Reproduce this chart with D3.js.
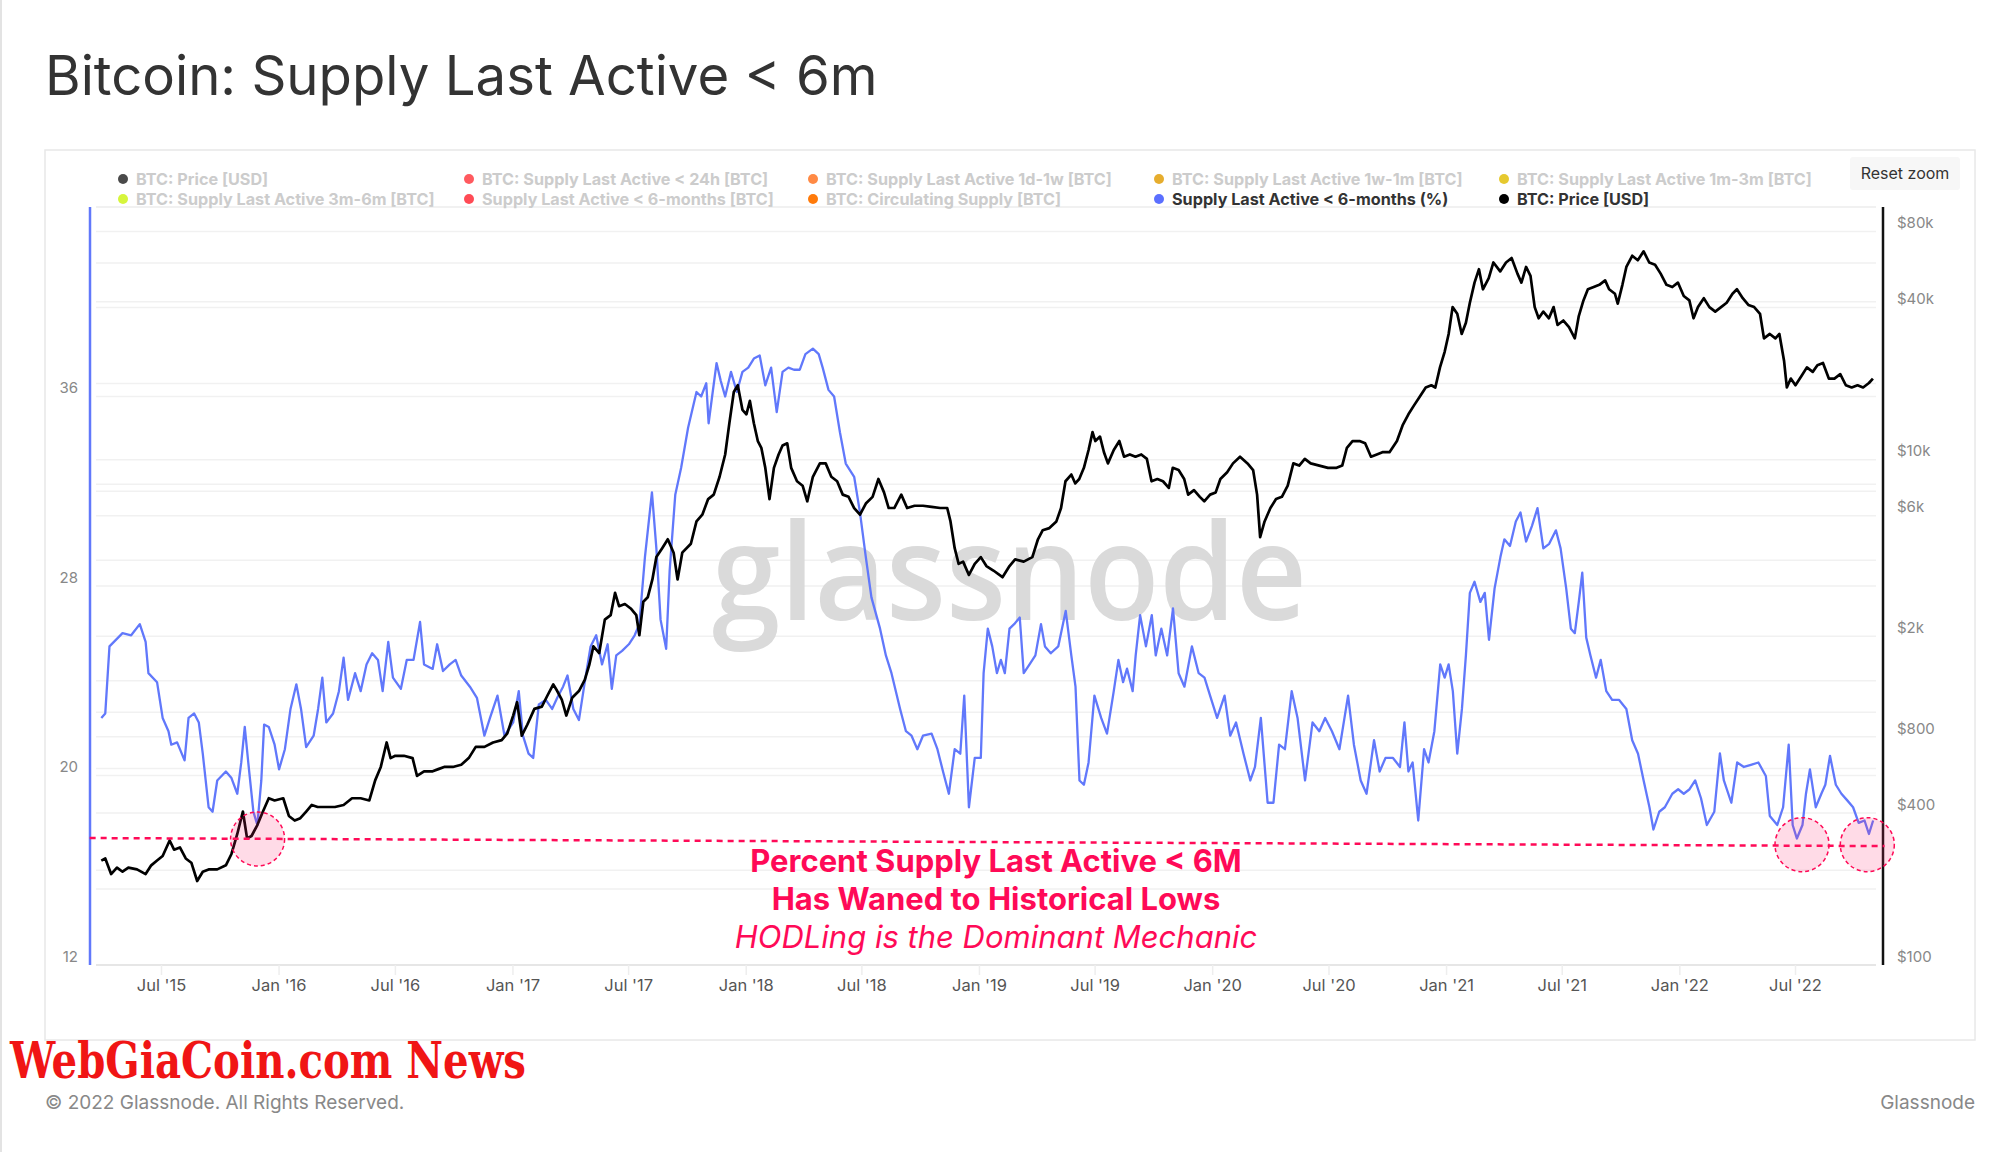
<!DOCTYPE html>
<html><head><meta charset="utf-8">
<script src="https://cdn.jsdelivr.net/npm/d3@7"></script>
<style>html,body{margin:0;padding:0;background:#fff;} svg{display:block;font-family:Inter,"Noto Sans",sans-serif;}</style>
</head><body><svg id="c" width="2000" height="1152"></svg>
<script>
// ---- DATA (dates as decimal years) ----
const pctDates = [2015.240,2015.257,2015.275,2015.294,2015.331,2015.368,2015.405,2015.430,2015.442,2015.479,2015.503,2015.528,2015.540,2015.565,2015.597,2015.614,2015.638,2015.658,2015.675,2015.700,2015.717,2015.737,2015.774,2015.798,2015.823,2015.840,2015.855,2015.872,2015.892,2015.909,2015.926,2015.938,2015.958,2015.983,2016.002,2016.027,2016.051,2016.076,2016.096,2016.118,2016.150,2016.169,2016.187,2016.204,2016.233,2016.258,2016.278,2016.297,2016.327,2016.351,2016.376,2016.400,2016.425,2016.445,2016.469,2016.489,2016.523,2016.548,2016.577,2016.605,2016.622,2016.659,2016.678,2016.703,2016.732,2016.757,2016.781,2016.818,2016.848,2016.880,2016.904,2016.936,2016.966,2017.003,2017.027,2017.045,2017.069,2017.089,2017.113,2017.143,2017.170,2017.192,2017.217,2017.236,2017.261,2017.285,2017.310,2017.335,2017.359,2017.384,2017.408,2017.426,2017.445,2017.470,2017.499,2017.524,2017.544,2017.568,2017.598,2017.617,2017.635,2017.659,2017.674,2017.698,2017.723,2017.753,2017.789,2017.809,2017.831,2017.841,2017.856,2017.875,2017.893,2017.912,2017.937,2017.962,2017.986,2018.011,2018.035,2018.060,2018.084,2018.109,2018.133,2018.158,2018.183,2018.207,2018.232,2018.256,2018.288,2018.313,2018.330,2018.355,2018.379,2018.404,2018.429,2018.465,2018.490,2018.515,2018.539,2018.576,2018.601,2018.625,2018.662,2018.687,2018.711,2018.736,2018.760,2018.797,2018.822,2018.846,2018.871,2018.896,2018.920,2018.937,2018.957,2018.982,
2019.008,2019.020,2019.038,2019.057,2019.077,2019.094,2019.111,2019.131,2019.151,2019.175,2019.192,2019.217,2019.242,2019.266,2019.283,2019.308,2019.340,2019.372,2019.396,2019.414,2019.431,2019.450,2019.470,2019.495,2019.524,2019.549,2019.578,2019.598,2019.618,2019.635,2019.659,2019.672,2019.691,2019.716,2019.741,2019.758,2019.782,2019.807,2019.832,2019.856,2019.881,2019.913,2019.942,2019.967,2019.991,2020.021,2020.053,2020.077,2020.102,2020.134,2020.163,2020.183,2020.208,2020.237,2020.262,2020.286,2020.311,2020.340,2020.365,2020.397,2020.429,2020.458,2020.483,2020.512,2020.544,2020.581,2020.606,2020.635,2020.660,2020.692,2020.716,2020.741,2020.773,2020.803,2020.822,2020.839,2020.857,2020.881,2020.906,2020.925,2020.950,2020.975,2020.994,2021.011,2021.029,2021.048,2021.068,2021.085,2021.102,2021.122,2021.147,2021.166,2021.184,2021.208,2021.233,2021.250,2021.274,2021.299,2021.319,2021.343,2021.368,2021.392,2021.417,2021.442,2021.471,2021.491,2021.515,2021.535,2021.552,2021.569,2021.584,2021.601,2021.619,2021.643,2021.663,2021.687,2021.712,2021.742,2021.773,2021.798,2021.823,2021.847,2021.872,2021.889,2021.914,2021.938,2021.970,2021.995,2022.019,2022.044,2022.068,2022.093,2022.118,2022.150,2022.174,2022.191,2022.223,2022.248,2022.277,2022.307,2022.339,2022.371,2022.388,2022.420,2022.445,2022.469,2022.486,2022.504,2022.528,2022.543,2022.560,2022.585,2022.609,2022.626,2022.646,2022.671,2022.695,2022.720,2022.745,2022.769,2022.794,2022.813,2022.831];
const pctValues = [22.43,22.62,25.45,25.64,26.01,25.92,26.39,25.64,24.32,23.94,22.43,21.87,21.30,21.40,20.64,22.43,22.62,22.24,20.92,18.66,18.47,19.79,20.17,19.89,19.23,20.55,22.05,20.36,18.47,17.91,19.79,22.15,22.05,21.30,20.26,21.11,22.81,23.85,22.81,21.20,21.68,22.81,24.13,22.24,22.62,23.56,24.98,23.19,24.32,23.56,24.69,25.16,24.88,23.56,25.64,24.13,23.66,24.88,24.88,26.48,24.69,24.50,25.54,24.41,24.69,24.88,24.22,23.75,23.28,21.68,22.43,23.37,21.68,22.24,23.56,21.68,20.92,20.74,23.00,23.19,22.81,23.28,23.75,24.22,22.81,22.34,23.94,25.45,25.92,24.69,25.54,23.66,25.07,25.26,25.54,25.92,26.39,29.22,31.95,29.59,26.58,25.35,28.65,31.85,32.98,34.68,36.19,36.00,36.56,34.87,36.00,37.41,36.66,36.00,37.04,36.19,37.04,37.22,37.60,37.73,36.47,37.22,35.34,37.04,37.22,37.13,37.13,37.79,38.02,37.79,37.22,36.28,36.00,34.49,33.17,32.61,31.10,29.22,27.52,26.20,25.07,24.32,22.81,21.87,21.68,21.11,21.68,21.77,21.11,20.17,19.23,21.11,20.92,23.37,18.66,20.74,
20.74,24.32,26.20,25.45,24.32,24.88,24.32,26.20,26.39,26.67,24.32,24.69,25.07,26.39,25.45,25.16,25.45,26.95,25.07,23.75,19.79,19.61,20.55,23.37,22.43,21.77,23.56,24.88,23.94,24.51,23.56,25.07,26.77,25.45,26.77,25.07,26.20,25.07,27.05,24.32,23.75,25.45,24.32,24.13,23.37,22.43,23.37,21.68,22.24,20.92,19.79,20.36,22.43,18.85,18.85,21.30,21.11,23.56,22.43,19.79,22.24,21.87,22.43,21.87,21.11,23.37,21.30,19.79,19.23,21.49,20.17,20.74,20.74,20.36,22.24,20.17,20.55,18.10,21.11,20.55,21.87,24.69,24.13,24.69,23.56,20.92,22.81,25.07,27.71,28.18,27.33,27.71,25.73,27.90,29.22,29.97,29.69,30.72,31.10,29.88,30.53,31.29,29.59,29.78,30.35,29.59,27.90,26.20,26.01,27.33,28.56,25.82,25.07,24.13,24.88,23.56,23.19,23.19,22.81,21.49,20.92,19.79,18.66,17.72,18.47,18.66,19.23,19.42,19.23,19.42,19.79,19.04,17.91,18.47,20.93,19.79,18.85,20.55,20.36,20.45,20.55,19.98,18.29,17.91,18.66,21.30,17.91,17.34,17.91,19.23,20.26,18.66,19.23,19.61,20.83,19.61,19.23,18.95,18.66,18.00,18.10,17.53,18.10];

const priceDates = [2015.240,2015.257,2015.282,2015.307,2015.331,2015.356,2015.393,2015.430,2015.454,2015.479,2015.503,2015.533,2015.552,2015.577,2015.602,2015.626,2015.651,2015.675,2015.700,2015.737,2015.774,2015.798,2015.823,2015.847,2015.865,2015.884,2015.909,2015.933,2015.958,2015.983,2016.020,2016.044,2016.069,2016.093,2016.118,2016.142,2016.167,2016.204,2016.241,2016.278,2016.314,2016.351,2016.388,2016.413,2016.437,2016.462,2016.479,2016.499,2016.536,2016.573,2016.592,2016.622,2016.659,2016.683,2016.708,2016.745,2016.781,2016.813,2016.843,2016.880,2016.917,2016.954,2016.978,2017.003,2017.020,2017.040,2017.064,2017.094,2017.126,2017.150,2017.175,2017.192,2017.212,2017.231,2017.256,2017.285,2017.310,2017.330,2017.347,2017.372,2017.396,2017.421,2017.440,2017.457,2017.482,2017.507,2017.531,2017.544,2017.561,2017.580,2017.600,2017.617,2017.642,2017.666,2017.691,2017.708,2017.728,2017.765,2017.789,2017.814,2017.839,2017.863,2017.888,2017.912,2017.930,2017.949,2017.966,2017.986,2018.003,2018.018,2018.035,2018.052,2018.067,2018.084,2018.102,2018.121,2018.141,2018.158,2018.178,2018.195,2018.220,2018.244,2018.264,2018.288,2018.318,2018.343,2018.367,2018.392,2018.416,2018.441,2018.465,2018.490,2018.515,2018.544,2018.569,2018.593,2018.613,2018.637,2018.667,2018.692,2018.724,2018.760,2018.797,2018.834,2018.864,2018.878,2018.896,2018.913,2018.932,2018.957,2018.982,
2019.008,2019.032,2019.062,2019.101,2019.131,2019.155,2019.192,2019.229,2019.253,2019.273,2019.302,2019.332,2019.352,2019.371,2019.396,2019.413,2019.430,2019.450,2019.470,2019.487,2019.499,2019.519,2019.536,2019.553,2019.578,2019.602,2019.622,2019.647,2019.671,2019.696,2019.720,2019.740,2019.765,2019.789,2019.814,2019.831,2019.856,2019.880,2019.897,2019.922,2019.947,2019.966,2019.991,2020.015,2020.035,2020.064,2020.089,2020.119,2020.151,2020.175,2020.192,2020.205,2020.224,2020.249,2020.273,2020.298,2020.323,2020.347,2020.372,2020.396,2020.421,2020.458,2020.495,2020.532,2020.556,2020.576,2020.600,2020.630,2020.654,2020.679,2020.704,2020.728,2020.758,2020.790,2020.814,2020.839,2020.863,2020.888,2020.913,2020.937,2020.954,2020.974,2020.994,2021.011,2021.028,2021.048,2021.067,2021.085,2021.102,2021.122,2021.141,2021.158,2021.183,2021.203,2021.232,2021.257,2021.281,2021.306,2021.323,2021.343,2021.362,2021.380,2021.397,2021.417,2021.441,2021.461,2021.478,2021.503,2021.527,2021.552,2021.569,2021.589,2021.608,2021.633,2021.657,2021.682,2021.699,2021.724,2021.736,2021.756,2021.773,2021.798,2021.822,2021.847,2021.871,2021.896,2021.920,2021.945,2021.970,2021.994,2022.019,2022.043,2022.061,2022.080,2022.105,2022.129,2022.154,2022.179,2022.203,2022.228,2022.247,2022.272,2022.296,2022.321,2022.346,2022.363,2022.388,2022.412,2022.429,2022.449,2022.461,2022.478,2022.498,2022.523,2022.547,2022.572,2022.592,2022.616,2022.641,2022.665,2022.690,2022.714,2022.739,2022.764,2022.788,2022.813,2022.830];
const priceValues = [259,264,229,243,234,243,239,229,248,259,270,311,286,292,264,254,215,234,239,239,248,275,330,405,317,324,358,405,457,448,457,389,373,381,405,430,422,422,422,430,457,457,448,538,608,760,659,673,673,659,560,584,584,596,608,608,620,659,730,730,760,776,825,971,1097,808,895,1032,1053,1166,1290,1214,1119,971,1142,1214,1344,1550,1824,1716,2328,2424,2971,2630,2684,2577,2424,2019,2739,2853,3357,4115,4463,4841,4284,3357,4284,4648,5696,6055,6982,7272,8556,10486,13943,18535,19700,15750,15120,17085,13943,11850,11145,9281,6982,9281,10486,11376,11609,9281,8214,7889,6841,8556,9667,9667,8556,8214,7272,7125,6436,6055,6705,7125,8384,7422,6436,6436,7272,6436,6570,6570,6500,6436,6436,5696,4463,3870,3950,3497,3870,
4115,3792,3641,3426,3792,4031,3950,4115,4841,5253,5360,5696,6436,8214,8732,8051,8384,9281,10922,12853,11850,12340,10703,9667,10922,11850,10275,10486,10275,10486,10070,8214,8384,8214,7730,9281,9094,8384,7272,7575,7125,6841,7272,7422,8384,8913,9667,10275,9667,9094,7272,4941,5696,6436,6982,7125,7889,9667,9474,10070,9667,9474,9281,9281,9474,11145,11850,11850,11609,10275,10486,10703,10703,11850,13663,15120,16406,17795,19307,19700,19307,23185,26730,31450,40160,37780,31450,34820,41810,50220,56740,47240,52310,60310,55590,60310,62810,54480,50220,57900,53380,40160,36270,38550,36270,40160,34120,35540,33440,30200,37010,42680,47240,48230,49200,51240,47240,45360,41470,49200,57900,64120,61550,66760,60310,59090,54480,49200,48230,50220,44440,42680,36270,40160,43550,40160,38550,40160,41810,45360,47240,43550,40970,40160,37780,30200,31450,30200,31450,24650,19307,20940,19700,21370,23185,22260,23660,24140,20940,20940,21810,19700,19307,19700,19307,20110,20940];

const xTickDates = ["2015-07-01","2016-01-01","2016-07-01","2017-01-01","2017-07-01","2018-01-01","2018-07-01","2019-01-01","2019-07-01","2020-01-01","2020-07-01","2021-01-01","2021-07-01","2022-01-01","2022-07-01"];
const xTickLabels = ["Jul '15","Jan '16","Jul '16","Jan '17","Jul '17","Jan '18","Jul '18","Jan '19","Jul '19","Jan '20","Jul '20","Jan '21","Jul '21","Jan '22","Jul '22"];
const pctTicks = [12,20,28,36];
const pctGrid = [12,16,20,24,28,32,36,40,44];
const priceTicks = [100,400,800,2000,6000,10000,40000,80000];
const priceTickLabels = ["$100","$400","$800","$2k","$6k","$10k","$40k","$80k"];
const priceGrid = [200,400,600,800,1000,2000,4000,6000,8000,10000,20000,40000,60000,80000,100000];

const legendRow1 = ["BTC: Price [USD]","BTC: Supply Last Active < 24h [BTC]","BTC: Supply Last Active 1d-1w [BTC]","BTC: Supply Last Active 1w-1m [BTC]","BTC: Supply Last Active 1m-3m [BTC]"];
const legendRow2 = ["BTC: Supply Last Active 3m-6m [BTC]","Supply Last Active < 6-months [BTC]","BTC: Circulating Supply [BTC]","Supply Last Active < 6-months (%)","BTC: Price [USD]"];
const legendColors1 = ["#4a4a4a","#ff5a5f","#ff8a45","#e6ad2e","#e6c92f"];
const legendColors2 = ["#d6f53c","#ff4b55","#ff7a0a","#5b6fff","#000000"];
const legendActive2 = [false,false,false,true,true];

// annotation (in data units: decimal year, percent)
const refLine = [[2015.19, 17.36],[2022.88, 17.02]];
const lowCircles = [[2015.91, 17.32],[2022.526, 17.08],[2022.806, 17.08]];
const annoLines = ["Percent Supply Last Active < 6M","Has Waned to Historical Lows","HODLing is the Dominant Mechanic"];

// ---- helpers ----
function toDate(y){const yr=Math.floor(y);const s=Date.UTC(yr,0,1),e=Date.UTC(yr+1,0,1);return new Date(s+(y-yr)*(e-s));}

const svg = d3.select("#c");
svg.append("rect").attr("width",2000).attr("height",1152).attr("fill","#fff");
svg.append("line").attr("x1",1).attr("x2",1).attr("y1",0).attr("y2",1152).attr("stroke","#e3e3e3").attr("stroke-width",2);

// title
svg.append("text").attr("x",45).attr("y",95).attr("font-size",54.5).attr("fill","#333").attr("font-weight",400)
  .text("Bitcoin: Supply Last Active < 6m");

// card
svg.append("rect").attr("x",45).attr("y",150).attr("width",1930).attr("height",890)
  .attr("fill","none").attr("stroke","#e8e8e8").attr("stroke-width",1.5);

// scales
const L=96,R=1876,T=207,B=965;
const x = d3.scaleUtc().domain([new Date(Date.UTC(2015,2,21,7)), new Date(Date.UTC(2022,10,4,19))]).range([L,R]);
const yP = d3.scaleLinear().domain([12,44]).range([B,T]);
const yB = d3.scaleLog().domain([100,100000]).range([B,T]);

// gridlines
const grid = svg.append("g");
grid.selectAll(".gp").data(pctGrid).join("line").attr("x1",L).attr("x2",R)
  .attr("y1",d=>yP(d)).attr("y2",d=>yP(d)).attr("stroke","#f1f1f1").attr("stroke-width",1.5);
grid.selectAll(".gb").data(priceGrid).join("line").attr("x1",L).attr("x2",R)
  .attr("y1",d=>yB(d)).attr("y2",d=>yB(d)).attr("stroke","#f1f1f1").attr("stroke-width",1.5);

// watermark
svg.append("text").attr("x",712).attr("y",620).attr("font-family","'Open Sans',Lato,sans-serif")
  .attr("font-size",134).attr("font-weight",600).attr("fill","#dadada")
  .attr("textLength",595).attr("lengthAdjust","spacingAndGlyphs").text("glassnode");

// x axis
const xAxis = d3.axisBottom(x).tickValues(xTickDates.map(d=>new Date(d+"T00:00:00Z")))
  .tickFormat((d,i)=>xTickLabels[i]).tickSize(10).tickPadding(3);
const gx = svg.append("g").attr("transform",`translate(0,${B})`).call(xAxis);
gx.select(".domain").attr("stroke","#e6e6e6").attr("stroke-width",2).attr("d",`M${L},0H${R}`);
gx.selectAll(".tick line").attr("stroke","#eeeeee").attr("stroke-width",1.5);
gx.selectAll(".tick text").attr("fill","#555").attr("font-size",16.5).attr("font-family","Inter,sans-serif").attr("dy","0.8em");

// left axis labels
const gl = svg.append("g").attr("transform",`translate(78,0)`)
  .call(d3.axisLeft(yP).tickValues(pctTicks).tickSize(0).tickPadding(0).tickFormat(d3.format("d")));
gl.select(".domain").remove();
gl.selectAll(".tick text").attr("fill","#888").attr("font-size",15).attr("font-family","Inter,sans-serif").attr("dy","-0.25em");

// right axis labels
const gr = svg.append("g").attr("transform",`translate(1897,0)`)
  .call(d3.axisRight(yB).tickValues(priceTicks).tickSize(0).tickPadding(0).tickFormat((d,i)=>priceTickLabels[i]));
gr.select(".domain").remove();
gr.selectAll(".tick text").attr("fill","#888").attr("font-size",15).attr("font-family","Inter,sans-serif").attr("dy","-0.25em");

// series
const pctData = pctDates.map((d,i)=>[toDate(d),pctValues[i]]);
const priceData = priceDates.map((d,i)=>[toDate(d),priceValues[i]]);
svg.append("path").datum(pctData).attr("fill","none").attr("stroke","#6178fb").attr("stroke-width",2.3)
  .attr("stroke-linejoin","round").attr("d",d3.line().x(d=>x(d[0])).y(d=>yP(d[1])));
svg.append("path").datum(priceData).attr("fill","none").attr("stroke","#000").attr("stroke-width",2.7)
  .attr("stroke-linejoin","round").attr("d",d3.line().x(d=>x(d[0])).y(d=>yB(d[1])));

// axis lines
svg.append("line").attr("x1",90).attr("x2",90).attr("y1",T).attr("y2",B).attr("stroke","#6178fb").attr("stroke-width",2.5);
svg.append("line").attr("x1",1883).attr("x2",1883).attr("y1",T).attr("y2",B).attr("stroke","#111").attr("stroke-width",2.5);

// annotation
const red="#ff0a57";
svg.append("line").attr("x1",x(toDate(refLine[0][0]))).attr("y1",yP(refLine[0][1]))
  .attr("x2",x(toDate(refLine[1][0]))).attr("y2",yP(refLine[1][1]))
  .attr("stroke",red).attr("stroke-width",2.5).attr("stroke-dasharray","6,5");
svg.selectAll(".lowc").data(lowCircles).join("circle")
  .attr("cx",d=>x(toDate(d[0]))).attr("cy",d=>yP(d[1])).attr("r",27)
  .attr("fill","rgba(255,40,110,0.17)").attr("stroke",red).attr("stroke-width",1.5).attr("stroke-dasharray","4,3");
const at = svg.append("g").attr("text-anchor","middle").attr("fill",red).attr("font-family","Inter,Roboto,sans-serif");
at.append("text").attr("x",996).attr("y",872).attr("font-size",31).attr("font-weight",700).text(annoLines[0]);
at.append("text").attr("x",996).attr("y",910).attr("font-size",31).attr("font-weight",700).text(annoLines[1]);
at.append("text").attr("x",996).attr("y",948).attr("font-size",31).attr("font-style","italic").attr("font-weight",400).text(annoLines[2]);

// legend
const colX=[123,469,813,1159,1504];
const lg = svg.append("g").attr("font-size",16.2).attr("font-weight",700).attr("font-family","Inter,sans-serif");
legendRow1.forEach((t,i)=>{
  lg.append("circle").attr("cx",colX[i]).attr("cy",179).attr("r",5).attr("fill",legendColors1[i]);
  lg.append("text").attr("x",colX[i]+13).attr("y",185).attr("fill","#cccccc").text(t);
});
legendRow2.forEach((t,i)=>{
  lg.append("circle").attr("cx",colX[i]).attr("cy",199).attr("r",5).attr("fill",legendColors2[i]);
  lg.append("text").attr("x",colX[i]+13).attr("y",205).attr("fill",legendActive2[i]?"#333":"#cccccc").text(t);
});

// reset zoom button
svg.append("rect").attr("x",1850).attr("y",157).attr("width",110).attr("height",33).attr("rx",3).attr("fill","#f7f7f7");
svg.append("text").attr("x",1905).attr("y",179).attr("text-anchor","middle").attr("font-size",16).attr("fill","#333").text("Reset zoom");

// footer
svg.append("text").attr("x",10).attr("y",1078).attr("font-family","'DejaVu Serif Condensed','DejaVu Serif',serif").attr("font-stretch","condensed")
  .attr("font-weight",700).attr("font-size",50).attr("fill","#f01515")
  .attr("textLength",516).attr("lengthAdjust","spacingAndGlyphs").text("WebGiaCoin.com News");
svg.append("text").attr("x",45).attr("y",1109).attr("font-size",19).attr("fill","#888").text("© 2022 Glassnode. All Rights Reserved.");
svg.append("text").attr("x",1975).attr("y",1109).attr("text-anchor","end").attr("font-size",19).attr("fill","#888").text("Glassnode");
</script></body></html>
